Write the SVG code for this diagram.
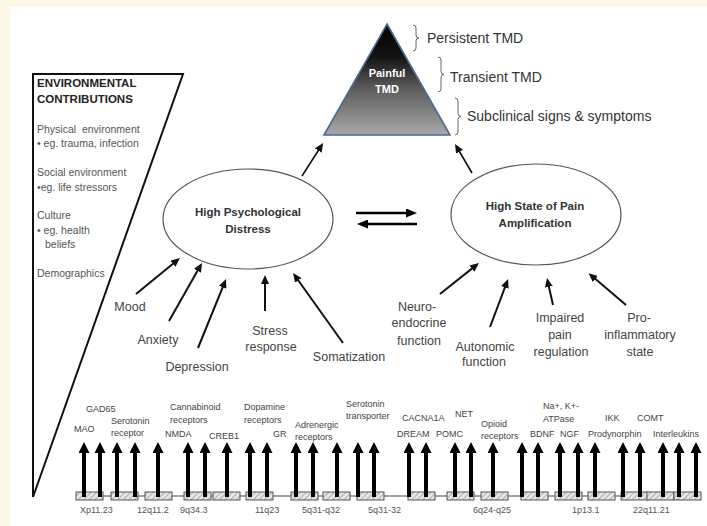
<svg xmlns="http://www.w3.org/2000/svg" width="707" height="526" viewBox="0 0 707 526">
<defs>
<style>
.lbl{font-family:"Liberation Sans",Arial,sans-serif;font-size:12.5px;fill:#444;text-anchor:middle}
.gene{font-family:"Liberation Sans",Arial,sans-serif;font-size:9px;fill:#444}
.chr{font-family:"Liberation Sans",Arial,sans-serif;font-size:9px;fill:#555}
.env{font-family:"Liberation Sans",Arial,sans-serif;font-size:10.5px;fill:#555}
.envh{font-family:"Liberation Sans",Arial,sans-serif;font-size:11.5px;font-weight:bold;fill:#222}
.ell{fill:#fff;stroke:#555;stroke-width:1.2}
.etx{font-family:"Liberation Sans",Arial,sans-serif;font-size:11.5px;font-weight:bold;fill:#333;text-anchor:middle}
.lev{font-family:"Liberation Sans",Arial,sans-serif;font-size:14px;fill:#333}
.brace{fill:none;stroke:#666;stroke-width:1}
.arr{stroke:#111;stroke-width:2;fill:none;marker-end:url(#ah)}
.arrt{stroke:#111;stroke-width:1.6;fill:none;marker-end:url(#ah)}
.arrb{stroke:#000;stroke-width:2.6;fill:none;marker-end:url(#ahb)}
.garr{stroke:#000;stroke-width:4;fill:none;marker-end:url(#ahg)}
.box{fill:url(#hatch);stroke:#555;stroke-width:1}
</style>
<marker id="ah" markerUnits="userSpaceOnUse" markerWidth="9" markerHeight="8" viewBox="0 0 9 8" refX="6" refY="4" orient="auto"><path d="M0,0 L9,4 L0,8 z" fill="#111"/></marker>
<marker id="ahb" markerUnits="userSpaceOnUse" markerWidth="11" markerHeight="9" viewBox="0 0 11 9" refX="7" refY="4.5" orient="auto"><path d="M0,0 L11,4.5 L0,9 z" fill="#000"/></marker>
<marker id="ahg" markerUnits="userSpaceOnUse" markerWidth="11" markerHeight="11" viewBox="0 0 11 11" refX="5" refY="5.5" orient="auto"><path d="M0,0 L11,5.5 L0,11 z" fill="#000"/></marker>
<linearGradient id="tg" x1="0" y1="0" x2="0" y2="1">
<stop offset="0" stop-color="#000"/>
<stop offset="0.3" stop-color="#151515"/>
<stop offset="0.6" stop-color="#606060"/>
<stop offset="1" stop-color="#a8a8a8"/>
</linearGradient>
<pattern id="hatch" patternUnits="userSpaceOnUse" width="4" height="4" patternTransform="rotate(45)">
<rect width="4" height="4" fill="#e6e6e6"/>
<line x1="0" y1="0" x2="0" y2="4" stroke="#888" stroke-width="1.2"/>
</pattern>
</defs>

<rect x="0" y="0" width="707" height="526" fill="#fdf8e4"/>
<rect x="10" y="7" width="697" height="519" fill="#fff"/>

<g id="env-panel">
<path d="M33,74 L183,74 L33,497 Z" fill="none" stroke="#111" stroke-width="2"/>
<text class="envh" x="37" y="87">ENVIRONMENTAL</text>
<text class="envh" x="37" y="103">CONTRIBUTIONS</text>
<text class="env" x="37" y="133" xml:space="preserve">Physical  environment</text>
<text class="env" x="37" y="147">• eg. trauma, infection</text>
<text class="env" x="37" y="176">Social environment</text>
<text class="env" x="37" y="191">•eg. life stressors</text>
<text class="env" x="37" y="219">Culture</text>
<text class="env" x="37" y="234">• eg. health</text>
<text class="env" x="45" y="248">beliefs</text>
<text class="env" x="37" y="277">Demographics</text>
</g>

<g id="painful-tmd">
<path d="M387,24 L450,135 L324,135 Z" fill="url(#tg)" stroke="#4a6a90" stroke-width="1.6" stroke-linejoin="miter"/>
<text x="387" y="77" font-family="Liberation Sans,Arial,sans-serif" font-size="11" font-weight="bold" fill="#fff" text-anchor="middle">Painful</text>
<text x="387" y="93" font-family="Liberation Sans,Arial,sans-serif" font-size="11" font-weight="bold" fill="#fff" text-anchor="middle">TMD</text>
</g>

<g id="levels">
<path class="brace" d="M413,25 Q416,25 416,28 L416,35 Q416,38 419,38 Q416,38 416,41 L416,48 Q416,51 413,51"/>
<text class="lev" x="427" y="43">Persistent TMD</text>
<path class="brace" d="M438,57 Q441,57 441,60 L441,71.5 Q441,74.5 444,74.5 Q441,74.5 441,77.5 L441,89 Q441,92 438,92"/>
<text class="lev" x="450" y="82">Transient TMD</text>
<path class="brace" d="M455,98 Q458,98 458,101 L458,113.5 Q458,116.5 461,116.5 Q458,116.5 458,119.5 L458,132 Q458,135 455,135"/>
<text class="lev" x="467" y="121">Subclinical signs &amp; symptoms</text>
</g>

<g id="psych-distress">
<ellipse class="ell" cx="248" cy="219" rx="85" ry="50"/>
<text class="etx" x="248" y="216">High Psychological</text>
<text class="etx" x="248" y="233">Distress</text>
</g>

<g id="pain-amplification">
<ellipse class="ell" cx="536" cy="214.5" rx="85" ry="50.5"/>
<text class="etx" x="535" y="210">High State of Pain</text>
<text class="etx" x="535" y="227">Amplification</text>
</g>

<g id="psych-factors">
<text class="lbl" x="130" y="311">Mood</text>
<text class="lbl" x="158" y="344">Anxiety</text>
<text class="lbl" x="197" y="371">Depression</text>
<text class="lbl" x="270" y="335">Stress</text>
<text class="lbl" x="271" y="351">response</text>
<text class="lbl" x="349" y="361">Somatization</text>
</g>

<g id="pain-factors">
<text class="lbl" x="417" y="311">Neuro-</text>
<text class="lbl" x="419" y="327">endocrine</text>
<text class="lbl" x="419" y="345">function</text>
<text class="lbl" x="485" y="351">Autonomic</text>
<text class="lbl" x="484" y="366">function</text>
<text class="lbl" x="560" y="322">Impaired</text>
<text class="lbl" x="560" y="339">pain</text>
<text class="lbl" x="561" y="356">regulation</text>
<text class="lbl" x="639" y="322">Pro-</text>
<text class="lbl" x="640" y="339">inflammatory</text>
<text class="lbl" x="640" y="356">state</text>
</g>

<g id="connectors">
<line class="arrt" x1="302" y1="176" x2="321.5" y2="145.5"/>
<line class="arrt" x1="472" y1="173" x2="456.5" y2="146.5"/>
<line class="arrb" x1="356" y1="213" x2="413" y2="213"/>
<line class="arrb" x1="417" y1="224" x2="361" y2="224"/>
<line class="arr" x1="136" y1="294" x2="177.6" y2="259.9"/>
<line class="arr" x1="169" y1="321" x2="200.5" y2="265.6"/>
<line class="arr" x1="198" y1="348" x2="224.9" y2="281.8"/>
<line class="arr" x1="265" y1="311" x2="265" y2="278"/>
<line class="arr" x1="343" y1="343" x2="294.8" y2="275.5"/>
<line class="arr" x1="440" y1="294" x2="476.6" y2="264.9"/>
<line class="arr" x1="490" y1="327" x2="507" y2="281.8"/>
<line class="arr" x1="553" y1="305" x2="547.6" y2="280.9"/>
<line class="arr" x1="626" y1="305" x2="590.8" y2="275.1"/>
</g>

<g id="chromosome">
<line x1="76" y1="496" x2="701" y2="496" stroke="#444" stroke-width="1.2"/>
<rect class="box" x="76" y="492" width="27" height="8"/>
<rect class="box" x="111" y="492" width="27" height="8"/>
<rect class="box" x="145" y="492" width="27" height="8"/>
<rect class="box" x="184" y="492" width="27" height="8"/>
<rect class="box" x="213" y="492" width="27" height="8"/>
<rect class="box" x="246" y="492" width="27" height="8"/>
<rect class="box" x="291" y="492" width="27" height="8"/>
<rect class="box" x="323" y="492" width="27" height="8"/>
<rect class="box" x="357" y="492" width="27" height="8"/>
<rect class="box" x="408" y="492" width="27" height="8"/>
<rect class="box" x="447" y="492" width="27" height="8"/>
<rect class="box" x="481" y="492" width="27" height="8"/>
<rect class="box" x="521" y="492" width="27" height="8"/>
<rect class="box" x="555" y="492" width="27" height="8"/>
<rect class="box" x="588" y="492" width="27" height="8"/>
<rect class="box" x="621" y="492" width="27" height="8"/>
<rect class="box" x="647" y="492" width="27" height="8"/>
<rect class="box" x="674" y="492" width="27" height="8"/>
<text class="chr" x="80" y="513">Xp11.23</text>
<text class="chr" x="137" y="513">12q11.2</text>
<text class="chr" x="180" y="513">9q34.3</text>
<text class="chr" x="255" y="513">11q23</text>
<text class="chr" x="302" y="513">5q31-q32</text>
<text class="chr" x="368" y="513">5q31-32</text>
<text class="chr" x="473" y="513">6q24-q25</text>
<text class="chr" x="572" y="513">1p13.1</text>
<text class="chr" x="633" y="513">22q11.21</text>
</g>

<g id="gene-arrows">
<line class="garr" x1="84" y1="497" x2="84" y2="448"/>
<line class="garr" x1="100" y1="497" x2="100" y2="448"/>
<line class="garr" x1="117" y1="497" x2="117" y2="448"/>
<line class="garr" x1="135" y1="497" x2="135" y2="448"/>
<line class="garr" x1="158" y1="497" x2="158" y2="448"/>
<line class="garr" x1="188" y1="497" x2="188" y2="448"/>
<line class="garr" x1="205" y1="497" x2="205" y2="448"/>
<line class="garr" x1="227" y1="497" x2="227" y2="448"/>
<line class="garr" x1="250" y1="497" x2="250" y2="448"/>
<line class="garr" x1="267" y1="497" x2="267" y2="448"/>
<line class="garr" x1="296" y1="497" x2="296" y2="448"/>
<line class="garr" x1="313" y1="497" x2="313" y2="448"/>
<line class="garr" x1="337" y1="497" x2="337" y2="448"/>
<line class="garr" x1="358" y1="497" x2="358" y2="448"/>
<line class="garr" x1="374" y1="497" x2="374" y2="448"/>
<line class="garr" x1="409" y1="497" x2="409" y2="448"/>
<line class="garr" x1="426" y1="497" x2="426" y2="448"/>
<line class="garr" x1="455" y1="497" x2="455" y2="448"/>
<line class="garr" x1="471" y1="497" x2="471" y2="448"/>
<line class="garr" x1="493" y1="497" x2="493" y2="448"/>
<line class="garr" x1="522" y1="497" x2="522" y2="448"/>
<line class="garr" x1="538" y1="497" x2="538" y2="448"/>
<line class="garr" x1="560" y1="497" x2="560" y2="448"/>
<line class="garr" x1="578" y1="497" x2="578" y2="448"/>
<line class="garr" x1="595" y1="497" x2="595" y2="448"/>
<line class="garr" x1="623" y1="497" x2="623" y2="448"/>
<line class="garr" x1="640" y1="497" x2="640" y2="448"/>
<line class="garr" x1="663" y1="497" x2="663" y2="448"/>
<line class="garr" x1="679" y1="497" x2="679" y2="448"/>
<line class="garr" x1="696" y1="497" x2="696" y2="448"/>
</g>

<g id="gene-labels">
<text class="gene" x="86" y="412">GAD65</text>
<text class="gene" x="74" y="432">MAO</text>
<text class="gene" x="111" y="424">Serotonin</text>
<text class="gene" x="111" y="436">receptor</text>
<text class="gene" x="170" y="410">Cannabinoid</text>
<text class="gene" x="170" y="423">receptors</text>
<text class="gene" x="165" y="437">NMDA</text>
<text class="gene" x="209" y="439">CREB1</text>
<text class="gene" x="244" y="410">Dopamine</text>
<text class="gene" x="244" y="423">receptors</text>
<text class="gene" x="273" y="437">GR</text>
<text class="gene" x="295" y="428">Adrenergic</text>
<text class="gene" x="295" y="440">receptors</text>
<text class="gene" x="346" y="407">Serotonin</text>
<text class="gene" x="346" y="419">transporter</text>
<text class="gene" x="402" y="421">CACNA1A</text>
<text class="gene" x="455" y="417">NET</text>
<text class="gene" x="397" y="437">DREAM</text>
<text class="gene" x="436" y="437">POMC</text>
<text class="gene" x="481" y="427">Opioid</text>
<text class="gene" x="481" y="439">receptors</text>
<text class="gene" x="543" y="409">Na+, K+-</text>
<text class="gene" x="543" y="422">ATPase</text>
<text class="gene" x="530" y="437">BDNF</text>
<text class="gene" x="560" y="437">NGF</text>
<text class="gene" x="605" y="421">IKK</text>
<text class="gene" x="637" y="421">COMT</text>
<text class="gene" x="588" y="437">Prodynorphin</text>
<text class="gene" x="653" y="437">Interleukins</text>
</g>
</svg>
